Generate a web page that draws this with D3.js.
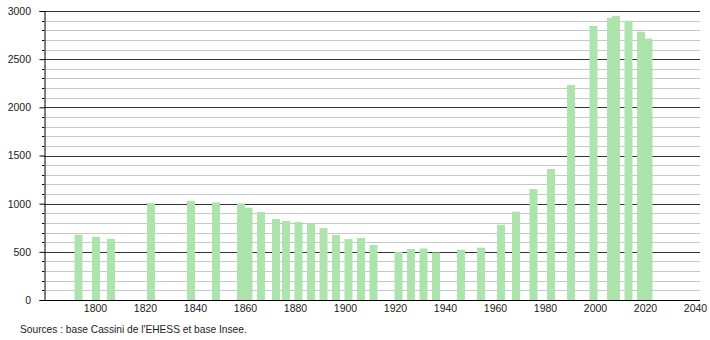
<!DOCTYPE html>
<html>
<head>
<meta charset="utf-8">
<script src="https://d3js.org/d3.v7.min.js"></script>
<style>
  body { margin: 0; background: #fff; }
  text { font-family: "Liberation Sans", Arial, sans-serif; }
</style>
</head>
<body>
<svg id="chart" width="710" height="340"></svg>
<script>
// Population by census year

const years = [1793, 1800, 1806, 1822, 1838, 1848, 1858, 1861, 1866, 1872, 1876, 1881, 1886,
    1891, 1896, 1901, 1906, 1911, 1921, 1926, 1931, 1936, 1946, 1954, 1962, 1968, 1975,
    1982, 1990, 1999, 2006, 2008, 2013, 2018, 2021];

const population = [677, 655, 634, 1008, 1030, 1014, 1004, 958, 913, 841, 820, 810, 796,
    747, 675, 633, 644, 571, 498, 529, 535, 493, 522, 543, 781, 917, 1152,
    1360, 2232, 2844, 2929, 2950, 2899, 2785, 2713];

const xTicks = [1800, 1820, 1840, 1860, 1880, 1900, 1920, 1940, 1960, 1980, 2000, 2020, 2040];
const yTicks = [0, 500, 1000, 1500, 2000, 2500, 3000];

const sourceText = "Sources : base Cassini de l'EHESS et base Insee.";

const svg = d3.select('#chart');

const plotLeft = 44, plotRight = 700, plotTop = 11, plotBottom = 300;
const barWidth = 8;
const fontSize = 10.5;

const x = d3.scaleLinear()
    .domain([1779.6, 2042])
    .range([plotLeft, plotRight]);

const y = d3.scaleLinear()
    .domain([0, 3000])
    .range([plotBottom, plotTop]);

// Grid lines, light every 100, dark every 500
const minor = d3.range(100, 3001, 100).filter(v => v % 500 !== 0);

svg.append('g')
    .selectAll('line')
    .data(minor)
    .join('line')
    .attr('x1', plotLeft)
    .attr('x2', plotRight)
    .attr('y1', d => Math.round(y(d)) + 0.5)
    .attr('y2', d => Math.round(y(d)) + 0.5)
    .attr('stroke', '#c8c8c8')
    .attr('stroke-width', 1);

svg.append('g')
    .selectAll('line')
    .data(yTicks.filter(d => d > 0))
    .join('line')
    .attr('x1', plotLeft)
    .attr('x2', plotRight)
    .attr('y1', d => Math.round(y(d)) + 0.5)
    .attr('y2', d => Math.round(y(d)) + 0.5)
    .attr('stroke', '#333')
    .attr('stroke-width', 1);

// Bars
const data = years.map((d, i) => ({year: d, value: population[i]}));

svg.append('g')
    .selectAll('rect')
    .data(data)
    .join('rect')
    .attr('x', d => x(d.year) - barWidth / 2 + 1)
    .attr('y', d => y(d.value))
    .attr('width', barWidth)
    .attr('height', d => plotBottom - y(d.value))
    .attr('fill', '#ade3ad');

// Y axis
const yAxis = svg.append('g')
    .attr('transform', `translate(${plotLeft + 0.5},0)`)
    .call(d3.axisLeft(y)
        .tickValues(yTicks)
        .tickSize(5)
        .tickPadding(8.5)
        .tickFormat(d3.format('d')));

yAxis.select('.domain').attr('stroke', '#000');
yAxis.selectAll('.tick line').attr('stroke', '#000');
yAxis.selectAll('text').attr('font-size', fontSize).attr('fill', '#222')
    .attr('font-family', '"Liberation Sans", Arial, sans-serif');

// Minor ticks on the y axis
svg.append('g')
    .selectAll('line')
    .data(minor)
    .join('line')
    .attr('x1', plotLeft - 2)
    .attr('x2', plotLeft)
    .attr('y1', d => Math.round(y(d)) + 0.5)
    .attr('y2', d => Math.round(y(d)) + 0.5)
    .attr('stroke', '#000');

// X axis
const xAxis = svg.append('g')
    .attr('transform', `translate(0,${plotBottom + 0.5})`)
    .call(d3.axisBottom(x)
        .tickValues(xTicks)
        .tickSize(0)
        .tickPadding(4)
        .tickFormat(d3.format('d')));

xAxis.select('.domain').attr('stroke', '#000').attr('d', `M${plotLeft},0H${plotRight}`);
xAxis.selectAll('text').attr('font-size', fontSize).attr('fill', '#222')
    .attr('font-family', '"Liberation Sans", Arial, sans-serif');

// Source note
svg.append('text')
    .attr('x', 20)
    .attr('y', 333)
    .attr('font-size', 10.2)
    .attr('fill', '#222')
    .text(sourceText);
</script>
</body>
</html>
